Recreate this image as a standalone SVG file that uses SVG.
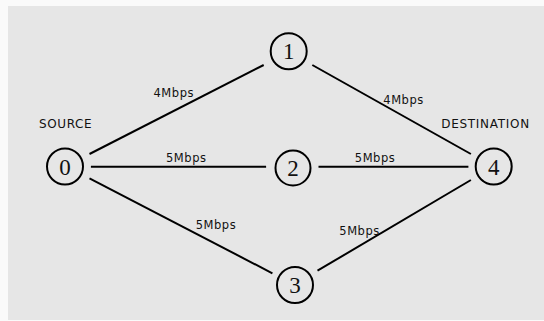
<svg xmlns="http://www.w3.org/2000/svg" width="544" height="321" viewBox="0 0 544 321">
  <style>
    .node circle { fill: none; stroke: #000; stroke-width: 2; }
    .node text { font-family: "Liberation Serif", "Times New Roman", serif; font-size: 23px; text-anchor: middle; fill: #111; }
    .link { stroke: #000; stroke-width: 2; fill: none; }
    .lbl { font-family: "DejaVu Sans", Verdana, sans-serif; font-size: 11.5px; fill: #111; }
    .cap { font-family: "DejaVu Sans", Verdana, sans-serif; font-size: 12px; fill: #111; }
  </style>
  <rect x="0" y="0" width="544" height="321" fill="#fafafa"/>
  <rect x="8" y="6" width="536" height="314" fill="#e6e6e6"/>

  <g id="connectors">
    <line class="link" x1="89.5" y1="154" x2="263.7" y2="65"/>
    <line class="link" x1="312.3" y1="65" x2="470.9" y2="154"/>
    <line class="link" x1="90.9" y1="166.7" x2="266.1" y2="166.7"/>
    <line class="link" x1="318.5" y1="166.7" x2="468.4" y2="166.7"/>
    <line class="link" x1="89.5" y1="178.3" x2="272.4" y2="273.3"/>
    <line class="link" x1="317.5" y1="270.7" x2="470.9" y2="180"/>
  </g>

  <g id="link-labels">
    <text class="lbl" x="153.5" y="97.3" textLength="40" lengthAdjust="spacing">4Mbps</text>
    <text class="lbl" x="383.3" y="104.3" textLength="40" lengthAdjust="spacing">4Mbps</text>
    <text class="lbl" x="166" y="162.3" textLength="40" lengthAdjust="spacing">5Mbps</text>
    <text class="lbl" x="354.8" y="162.3" textLength="40" lengthAdjust="spacing">5Mbps</text>
    <text class="lbl" x="195.7" y="228.7" textLength="40" lengthAdjust="spacing">5Mbps</text>
    <text class="lbl" x="339.3" y="235.3" textLength="40" lengthAdjust="spacing">5Mbps</text>
  </g>

  <text class="cap" x="39" y="128.3" textLength="52.7" lengthAdjust="spacing">SOURCE</text>
  <text class="cap" x="441.2" y="128.3" textLength="88" lengthAdjust="spacing">DESTINATION</text>

  <g id="node-0" class="node">
    <circle cx="65" cy="166.5" r="18"/>
    <text x="65" y="174.5">0</text>
  </g>
  <g id="node-1" class="node">
    <circle cx="288.7" cy="51.3" r="18"/>
    <text x="288.7" y="59.3">1</text>
  </g>
  <g id="node-2" class="node">
    <circle cx="293" cy="168" r="17.5"/>
    <text x="293" y="176">2</text>
  </g>
  <g id="node-3" class="node">
    <circle cx="295" cy="285" r="18"/>
    <text x="295" y="293">3</text>
  </g>
  <g id="node-4" class="node">
    <circle cx="493.7" cy="166.5" r="18"/>
    <text x="493.7" y="174.5">4</text>
  </g>
</svg>
